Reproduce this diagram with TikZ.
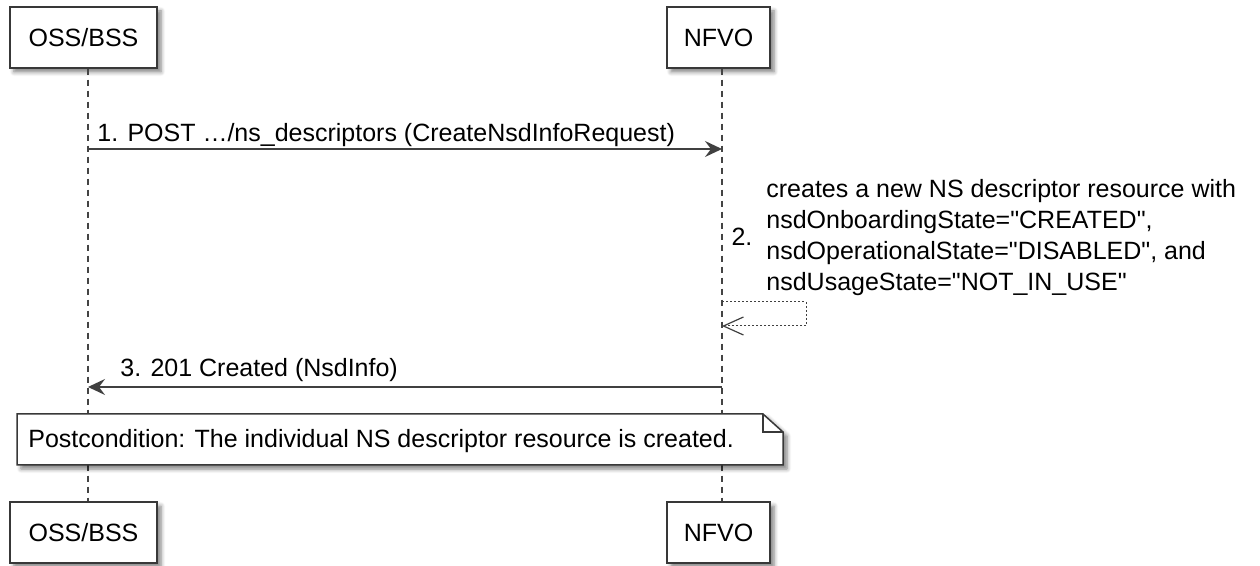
\documentclass[tikz,border=0pt]{standalone}
\usepackage{fontspec}
\setmainfont{Liberation Sans}
\usetikzlibrary{calc,arrows.meta,shadows.blur}
\definecolor{boxgray}{HTML}{383838}
\definecolor{linegray}{HTML}{444444}
\definecolor{arrowgray}{HTML}{404040}
\def\umlfont{\fontsize{12.5}{15.5}\selectfont}
\def\q{\textquotedbl}
\tikzset{
  actorbox/.style={draw=boxgray, line width=0.75pt, fill=white, minimum height=30.5pt,
    inner xsep=0pt, font=\umlfont,
    blur shadow={shadow xshift=2pt, shadow yshift=-2pt, shadow blur steps=5, shadow opacity=50}},
  lifeline/.style={draw=linegray, line width=0.6pt, dash pattern=on 3pt off 2.5pt},
  msg/.style={draw=arrowgray, line width=0.75pt, -{Stealth[length=8.5pt,width=8pt,inset=3pt]}},
  selfmsg/.style={draw=arrowgray, line width=0.5pt, dash pattern=on 1pt off 1pt,
    -{Straight Barb[length=10pt,width=9pt,line width=0.6pt]}},
  msglabel/.style={font=\umlfont, inner sep=0pt},
  notebox/.style={draw=boxgray, line width=0.75pt, fill=white,
    blur shadow={shadow xshift=2pt, shadow yshift=-2pt, shadow blur steps=5, shadow opacity=50}}
}
\begin{document}
\begin{tikzpicture}[x=0.5pt,y=-0.5pt]
\useasboundingbox (0,0) rectangle (1260,566);
% participants
\node[actorbox, minimum width=73.5pt] (ossTop) at (83.5,37.5) {OSS/BSS};
\node[actorbox, minimum width=51.5pt] (nfvoTop) at (718.5,37.5) {NFVO};
\node[actorbox, minimum width=73.5pt] (ossBot) at (83.5,532.5) {OSS/BSS};
\node[actorbox, minimum width=51.5pt] (nfvoBot) at (718.5,532.5) {NFVO};
% lifelines
\draw[lifeline] ([xshift=2.25pt]ossTop.south) -- ([xshift=2.25pt]ossBot.north);
\draw[lifeline] ([xshift=1.75pt]nfvoTop.south) -- ([xshift=1.75pt]nfvoBot.north);
% 1. request
\coordinate (m1from) at (88,149);
\coordinate (m1to) at (722,149);
\draw[msg] (m1from) -- (m1to);
\node[msglabel, anchor=base west] (m1lbl) at (97,142) {1. POST \dots/ns\_descriptors (CreateNsdInfoRequest)};
% 2. self message
\coordinate (s2a) at (722,302);
\coordinate (s2b) at (806,302);
\coordinate (s2c) at (806,326);
\coordinate (s2d) at (722,326);
\draw[selfmsg] (s2a) -- (s2b) -- (s2c) -- (s2d);
\node[msglabel] (s2num) at (742,237) {2.};
\node[msglabel, anchor=north west, align=left] (s2lbl) at (766,179)
  {creates a new NS descriptor resource with\\
   nsdOnboardingState=\q CREATED\q,\\
   nsdOperationalState=\q DISABLED\q, and\\
   nsdUsageState=\q NOT\_IN\_USE\q};
% 3. response
\coordinate (m3from) at (722,387);
\coordinate (m3to) at (88,387);
\draw[msg] (m3from) -- (m3to);
\node[msglabel, anchor=base west] (m3lbl) at (120,377) {3. 201 Created (NsdInfo)};
% postcondition note
\draw[notebox] (17,414) -- (763,414) -- (783,432) -- (783,465) -- (17,465) -- cycle;
\draw[boxgray, line width=0.75pt] (763,414) -- (763,432) -- (783,432);
\node[msglabel, anchor=base west] (post) at (28,448) {Postcondition: The individual NS descriptor resource is created.};
\end{tikzpicture}
\end{document}
